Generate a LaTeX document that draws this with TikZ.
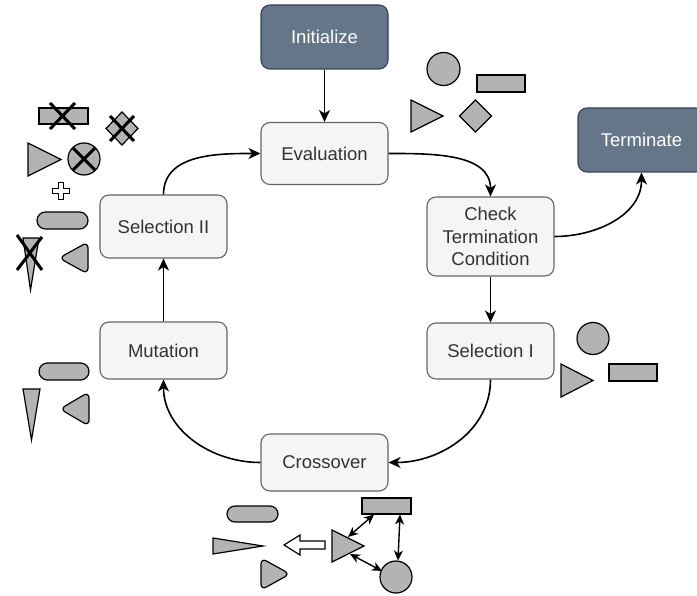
\documentclass[tikz,border=0pt]{standalone}
\usepackage{fontspec}
\setmainfont{Liberation Sans}
\usetikzlibrary{arrows.meta,shapes.geometric}
\definecolor{boxfill}{HTML}{F5F5F5}
\definecolor{boxdraw}{HTML}{666666}
\definecolor{boxtext}{HTML}{333333}
\definecolor{darkfill}{HTML}{647687}
\definecolor{darkdraw}{HTML}{314354}
\definecolor{shpfill}{HTML}{B3B3B3}
\tikzset{
  box/.style={draw=boxdraw, fill=boxfill, rounded corners=9pt, line width=1.1pt,
    text=boxtext, font=\fontsize{18.5}{22.5}\selectfont, align=center, inner sep=0pt,
    minimum width=127pt},
  darkbox/.style={box, draw=darkdraw, fill=darkfill, text=white},
  flow/.style={-{Stealth[length=12pt,width=11pt,inset=3.5pt]}, line width=1.6pt},
  dbl/.style={{Stealth[length=10pt,width=9pt,inset=3pt]}-{Stealth[length=10pt,width=9pt,inset=3pt]}, line width=1.4pt},
  shp/.style={draw=black, fill=shpfill, line width=1.2pt},
  xmark/.style={draw=black, line width=3pt},
}
\begin{document}
\begin{tikzpicture}[x=1pt,y=-1pt]
\useasboundingbox (0,0) rectangle (697,596);
\clip (0,0) rectangle (697,596);
% main nodes
\node[darkbox, minimum height=64pt] (init) at (324.5,37) {Initialize};
\node[box, minimum height=62pt] (eval) at (324.5,153.5) {Evaluation};
\node[box, minimum height=79pt] (check) at (490.5,236.5) {Check\\Termination\\Condition};
\node[box, minimum height=56pt] (sel1) at (490.5,351) {Selection I};
\node[box, minimum height=57pt] (cross) at (324.5,462.5) {Crossover};
\node[box, minimum height=57pt] (mut) at (163.5,350.5) {Mutation};
\node[box, minimum height=63pt] (sel2) at (163.5,226.5) {Selection II};
\node[darkbox, minimum height=64pt] (term) at (641.5,140) {Terminate};
% connectors
\draw[flow] (init) -- (eval);
\draw[flow] (eval.east) to[out=0,in=90] (check.north);
\draw[flow] (check.east) to[out=0,in=-90] (term.south);
\draw[flow] (check) -- (sel1);
\draw[flow] (sel1.south) to[out=-90,in=0] (cross.east);
\draw[flow] (cross.west) to[out=180,in=-90] (mut.south);
\draw[flow] (mut) -- (sel2);
\draw[flow] (sel2.north) to[out=90,in=180] (eval.west);
% group near evaluation
\draw[shp] (443.5,69) circle (16.5);
\draw[shp] (477,75) rectangle (525,92);
\draw[shp] (411,100) -- (443,116) -- (411,132) -- cycle;
\draw[shp] (475.5,100) -- (491.5,116) -- (475.5,132) -- (459.5,116) -- cycle;
% group near selection I
\draw[shp] (593,338.5) circle (16);
\draw[shp] (561,364) -- (593,380.5) -- (561,397) -- cycle;
\draw[shp] (609,364) rectangle (657,381);
% group near mutation
\draw[shp, rounded corners=8.5pt] (39,363) rectangle (89,380);
\draw[shp] (23,389) -- (40,389) -- (31.5,440) -- cycle;
\draw[shp, rounded corners=6pt] (89,392) -- (89,426) -- (60,409) -- cycle;
% group near selection II
\draw[shp] (39,108) rectangle (88,124);
\draw[xmark] (50,103) -- (75,129) (75,103) -- (50,129);
\draw[shp] (122,112) -- (138,128.5) -- (122,145) -- (106,128.5) -- cycle;
\draw[xmark] (110,116) -- (134,141) (134,116) -- (110,141);
\draw[shp] (28,143) -- (61,159.5) -- (28,176) -- cycle;
\draw[shp] (84,159) circle (16);
\draw[xmark] (73,148) -- (95,170) (95,148) -- (73,170);
\draw[draw=black, fill=white, line width=1pt]
  (58.5,182.5) -- (63.5,182.5) -- (63.5,188.5) -- (69.5,188.5) -- (69.5,193.5) -- (63.5,193.5)
  -- (63.5,199.5) -- (58.5,199.5) -- (58.5,193.5) -- (52.5,193.5) -- (52.5,188.5) -- (58.5,188.5) -- cycle;
\draw[shp, rounded corners=8.5pt] (37,212) rectangle (88,229);
\draw[shp] (23,238) -- (39,238) -- (30.5,290) -- cycle;
\draw[xmark] (17,235) -- (42,270) (42,237) -- (17,270);
\draw[shp, rounded corners=6pt] (88,242) -- (88,274) -- (59,258) -- cycle;
% group near crossover
\draw[shp, rounded corners=8pt] (227,506) rectangle (278,522);
\draw[shp] (213,538) -- (263,546) -- (213,554) -- cycle;
\draw[shp, rounded corners=6pt] (261,558) -- (290,574) -- (261,590) -- cycle;
\draw[draw=black, fill=white, line width=1.2pt]
  (284,545) -- (300,535) -- (300,541) -- (325,541) -- (325,549) -- (300,549) -- (300,555) -- cycle;
\draw[shp] (332,530) -- (364,546) -- (332,562) -- cycle;
\node[shp, rectangle, minimum width=49pt, minimum height=16pt, inner sep=0pt] (xrect) at (386.5,506) {};
\node[shp, circle, minimum size=32pt, inner sep=0pt] (xcirc) at (396,577) {};
\coordinate (triTop) at (348,537);
\coordinate (triBot) at (350,554);
\coordinate (rectA) at (374,514.5);
\coordinate (rectB) at (400,514.5);
\coordinate (circA) at (382,571);
\coordinate (circB) at (398,560.5);
\draw[dbl] (triTop) -- (rectA);
\draw[dbl] (triBot) -- (circA);
\draw[dbl] (rectB) -- (circB);
\end{tikzpicture}
\end{document}
